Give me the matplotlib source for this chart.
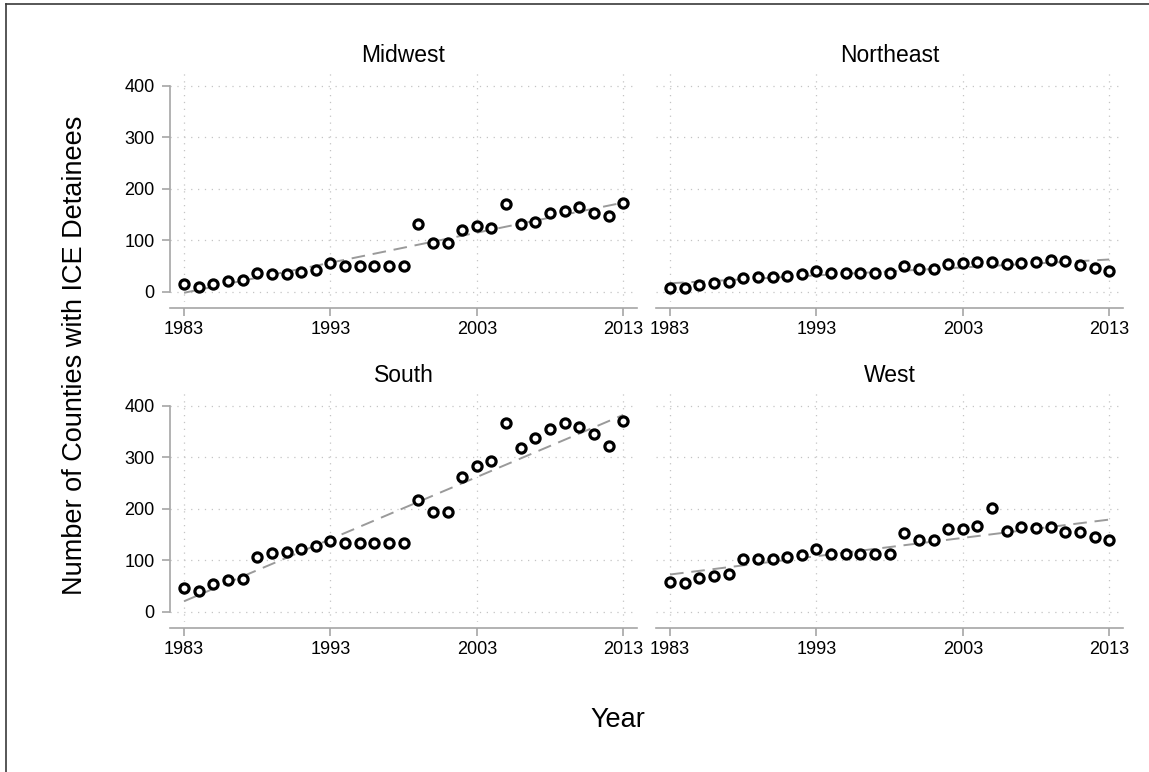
import matplotlib
matplotlib.use("Agg")
import matplotlib.pyplot as plt
from matplotlib.lines import Line2D
import numpy as np

plt.rcParams['font.family'] = ['Liberation Sans', 'DejaVu Sans']

# -- Data
years = list(range(1983, 2014))

midwest = [14, 10, 15, 21, 22, 37, 35, 35, 38, 43,
           56, 50, 50, 50, 50, 50, 131, 94, 94, 119,
           127, 124, 171, 131, 135, 152, 157, 165, 153, 147, 173]
northeast = [7, 7, 13, 17, 19, 26, 28, 28, 31, 34,
             40, 37, 37, 37, 37, 36, 50, 45, 45, 54,
             55, 57, 57, 54, 55, 58, 61, 59, 52, 46, 41]
south = [46, 40, 54, 62, 64, 107, 114, 116, 121, 128,
         137, 134, 134, 134, 134, 134, 217, 193, 193, 261,
         283, 292, 366, 318, 337, 355, 366, 359, 346, 321, 371]
west = [58, 55, 66, 69, 73, 102, 102, 103, 106, 111,
        121, 113, 113, 113, 113, 113, 152, 140, 140, 160,
        160, 166, 202, 156, 164, 163, 165, 154, 154, 145, 140]

regions = ["Midwest", "Northeast", "South", "West"]
series = [midwest, northeast, south, west]
x_ticks = [1983, 1993, 2003, 2013]
y_ticks = [0, 100, 200, 300, 400]

W, H = 1149, 772
fig = plt.figure(figsize=(W / 100, H / 100), dpi=100)

# panel boxes in pixels: left, top
panel_px = [(170, 72), (656, 72), (170, 392), (656, 392)]
pw, ph = 467, 230

axis_gray = '#a6a6a6'

for i, (name, vals) in enumerate(zip(regions, series)):
    left, top = panel_px[i]
    ax = fig.add_axes([left / W, 1 - (top + ph) / H, pw / W, ph / H])
    ax.set_xlim(1982.04, 2013.94)
    ax.set_ylim(-20, 426.6)

    # grid
    for yt in y_ticks:
        ax.axhline(yt, color='#c4c4c4', lw=0.9, ls=(0, (1, 4.5)), zorder=0)
    for xt in x_ticks:
        ax.axvline(xt, color='#c4c4c4', lw=0.9, ls=(0, (1, 4.5)), zorder=0)

    # linear fit
    x = np.array(years, dtype=float)
    y = np.array(vals, dtype=float)
    b, a = np.polyfit(x, y, 1)
    ax.plot(x, a + b * x, color='#9a9a9a', lw=1.4, ls=(0, (7, 4)), zorder=2)

    ax.plot(years, vals, ls='none', marker='o', ms=6.6, mew=2.3,
            mec='black', mfc='white', zorder=3)

    for s in ['top', 'right']:
        ax.spines[s].set_visible(False)
    ax.spines['bottom'].set_position(('outward', 4))
    ax.spines['bottom'].set_color(axis_gray)
    ax.spines['bottom'].set_linewidth(1.2)
    ax.set_xticks(x_ticks)
    ax.tick_params(axis='x', length=6, width=1.2, color=axis_gray,
                   labelsize=13, pad=4)

    if i % 2 == 0:
        ax.spines['left'].set_bounds(0, 400)
        ax.spines['left'].set_color(axis_gray)
        ax.spines['left'].set_linewidth(1.2)
        ax.set_yticks(y_ticks)
        ax.tick_params(axis='y', length=6, width=1.2, color=axis_gray,
                       labelsize=13, pad=5)
    else:
        ax.spines['left'].set_visible(False)
        ax.set_yticks([])

    ax.set_title(name, fontsize=16.5, pad=7)

fig.text(75 / W, 1 - 355 / H, "Number of Counties with ICE Detainees",
         rotation=90, ha='center', va='center', fontsize=19.5)
fig.text(618 / W, 1 - 720 / H, "Year", ha='center', va='center', fontsize=19.5)

# frame on left and top edges
fig.add_artist(Line2D([6 / W, 6 / W], [0, 1 - 4 / H], color='#3a3a3a', lw=1.2))
fig.add_artist(Line2D([6 / W, 1], [1 - 4 / H, 1 - 4 / H], color='#3a3a3a', lw=1.2))

fig.savefig("out.png", dpi=100, facecolor='white')
